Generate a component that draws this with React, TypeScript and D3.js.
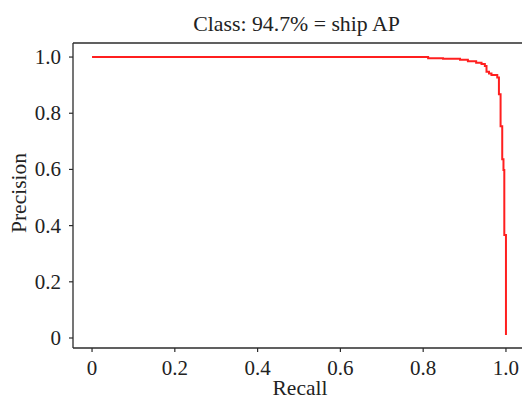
import React from "react";
import * as d3 from "d3";

const recall = [0, 0.812, 0.848, 0.889, 0.908, 0.928, 0.941, 0.949, 0.953, 0.959, 0.965, 0.979, 0.983, 0.987, 0.991, 0.994, 0.996, 1.0];
const precision = [1.0, 0.996, 0.994, 0.99, 0.985, 0.98, 0.975, 0.968, 0.948, 0.941, 0.936, 0.927, 0.868, 0.754, 0.636, 0.598, 0.367, 0.011];
const tickValues = [0, 0.2, 0.4, 0.6, 0.8, 1.0];
const tickLabels = ["0", "0.2", "0.4", "0.6", "0.8", "1.0"];
const title = "Class: 94.7% = ship AP";

const W = 522;
const H = 398;
const L = 73, R = 525, T = 43, B = 348;
const FONT = "'Liberation Serif', 'DejaVu Serif', serif";

export default function App() {
  const x = d3.scaleLinear().domain([-0.046, 1.046]).range([L, R]);
  const y = d3.scaleLinear().domain([-0.0356, 1.05]).range([B, T]);
  const pts: [number, number][] = recall.map((r, i) => [r, precision[i]]);
  const line = d3
    .line<[number, number]>()
    .x((d) => x(d[0]))
    .y((d) => y(d[1]))
    .curve(d3.curveStepAfter);
  const axisColor = "#2b2b2b";
  return (
    <svg
      width={W}
      height={H}
      style={{ position: "absolute", left: 0, top: 0, background: "#fff" }}
    >
      <rect x={0} y={0} width={W} height={H} fill="#fff" />
      <text x={296.5} y={31} textAnchor="middle" fontFamily={FONT} fontSize={21.8} fill="#222">
        {title}
      </text>
      <path d={line(pts) || ""} fill="none" stroke="#ff1f1f" strokeWidth={2} />
      {/* spines */}
      <line x1={L} y1={T} x2={L} y2={B} stroke={axisColor} strokeWidth={1.3} />
      <line x1={L} y1={B} x2={R + 5} y2={B} stroke={axisColor} strokeWidth={1.3} />
      <line x1={L} y1={T} x2={R + 5} y2={T} stroke={axisColor} strokeWidth={1.3} />
      <line x1={R} y1={T} x2={R} y2={B} stroke={axisColor} strokeWidth={1.3} />
      {tickValues.map((v, i) => (
        <g key={"x" + i}>
          <line x1={x(v)} x2={x(v)} y1={B} y2={B + 4} stroke={axisColor} strokeWidth={1.2} />
          <text x={x(v)} y={375} textAnchor="middle" fontFamily={FONT} fontSize={21} fill="#222">
            {tickLabels[i]}
          </text>
        </g>
      ))}
      {tickValues.map((v, i) => (
        <g key={"y" + i}>
          <line x1={L - 4} x2={L} y1={y(v)} y2={y(v)} stroke={axisColor} strokeWidth={1.2} />
          <text x={61} y={y(v) + 7} textAnchor="end" fontFamily={FONT} fontSize={21} fill="#222">
            {tickLabels[i]}
          </text>
        </g>
      ))}
      <text x={300} y={394.5} textAnchor="middle" fontFamily={FONT} fontSize={21.5} fill="#222">
        Recall
      </text>
      <text
        transform={`translate(26,193) rotate(-90)`}
        textAnchor="middle"
        fontFamily={FONT}
        fontSize={21.5}
        fill="#222"
      >
        Precision
      </text>
    </svg>
  );
}
